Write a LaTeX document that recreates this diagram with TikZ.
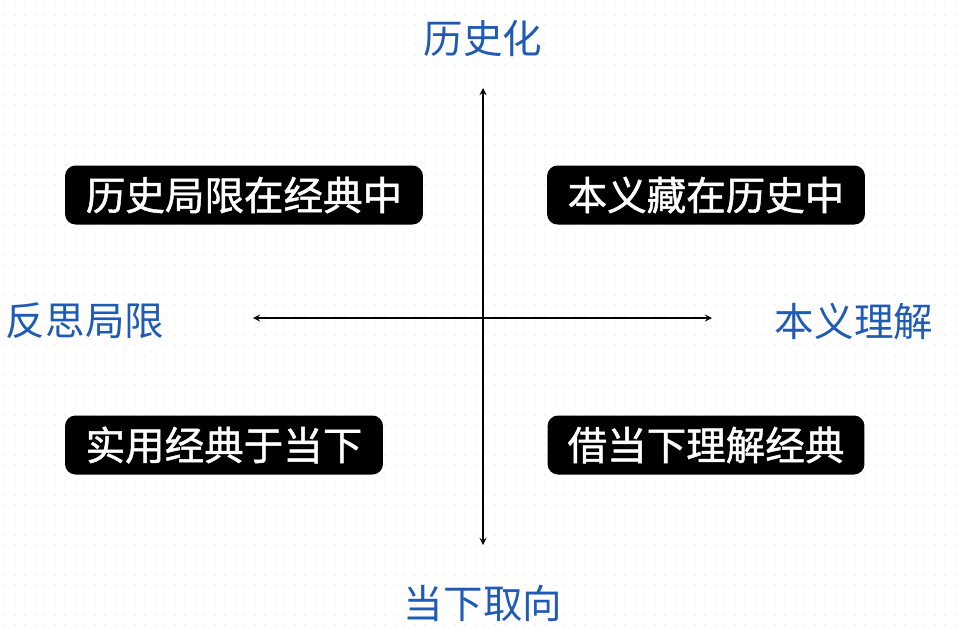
\documentclass[tikz,border=0pt]{standalone}
\usepackage{fontspec}
\setmainfont{Noto Sans CJK SC}
\newfontfamily\quadfont[FakeBold=1.2]{Noto Sans CJK SC}
\begin{document}
\begin{tikzpicture}[x=0.02cm, y=-0.02cm,
  quad/.style={fill=black, text=white, rounded corners=6pt, inner sep=0pt,
    minimum height=1.18cm, font=\fontsize{22.5}{22.5}\quadfont},
  axislabel/.style={text={rgb,255:red,31;green,91;blue,181}, font=\fontsize{22.5}{22.5}\selectfont}]
\useasboundingbox (0,0) rectangle (960,633);
% faint dotted background
\foreach \i in {5,15,...,955}
  \foreach \j in {5,15,...,625}
    \fill[black!5] (\i,\j) circle (0.6pt);

\coordinate (top) at (483,88);
\coordinate (bottom) at (483,545);
\coordinate (left) at (253,318);
\coordinate (right) at (712,318);
\draw[thick, <->, >=stealth] (bottom) -- (top);
\draw[thick, <->, >=stealth] (left) -- (right);

\node[axislabel] (hist) at (483,38) {历史化};
\node[axislabel] (now) at (483,603) {当下取向};
\node[axislabel] (reflect) at (85,321) {反思局限};
\node[axislabel] (orig) at (854,321) {本义理解};

\node[quad, minimum width=7.16cm] (q2) at (244,195) {历史局限在经典中};
\node[quad, minimum width=6.36cm] (q1) at (706,195) {本义藏在历史中};
\node[quad, minimum width=6.36cm] (q3) at (224,445) {实用经典于当下};
\node[quad, minimum width=6.34cm] (q4) at (706,445) {借当下理解经典};
\end{tikzpicture}
\end{document}
